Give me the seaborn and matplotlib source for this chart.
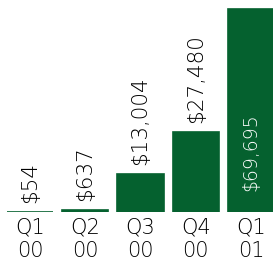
import matplotlib
matplotlib.use("Agg")
import matplotlib.pyplot as plt
import seaborn as sns
import pandas as pd

categories = ["Q1\n00", "Q2\n00", "Q3\n00", "Q4\n00", "Q1\n01"]
values = [54, 637, 13004, 27480, 69695]
value_labels = ["$54", "$637", "$13,004", "$27,480", "$69,695"]

sns.set_theme(style="white")
plt.rcParams['font.family'] = ['DejaVu Sans']

df = pd.DataFrame({"cat": categories, "val": values})

fig = plt.figure(figsize=(2.73, 2.58), dpi=100)
ax = fig.add_axes([0, 46/258, 1, 212/258])
sns.barplot(data=df, x="cat", y="val", color="#05612f", saturation=1,
            width=0.84, ax=ax)
for p in ax.patches:
    p.set_edgecolor("#05612f")
    p.set_linewidth(1.2)

ax.set_xlim(-0.543, 4.398)
ax.set_ylim(0, 72780)
for s in ax.spines.values():
    s.set_visible(False)
ax.set_yticks([])
ax.set_xlabel("")
ax.set_ylabel("")
ax.tick_params(axis="x", length=0, pad=4, labelsize=15, colors="#000000")
for t in ax.get_xticklabels():
    t.set_linespacing(1.2)
    t.set_fontweight("light")

for i, (v, lab) in enumerate(zip(values, value_labels)):
    if i == len(values) - 1:
        ax.annotate(lab, xy=(i, 0), xytext=(0, 21), textcoords="offset pixels",
                    rotation=90, ha="center", va="bottom", fontsize=13.5,
                    color="white", fontweight="light")
    else:
        ax.annotate(lab, xy=(i, v), xytext=(0, 9), textcoords="offset pixels",
                    rotation=90, ha="center", va="bottom", fontsize=15.5,
                    color="#000000", fontweight="light")

fig.savefig("out.png", dpi=100)
